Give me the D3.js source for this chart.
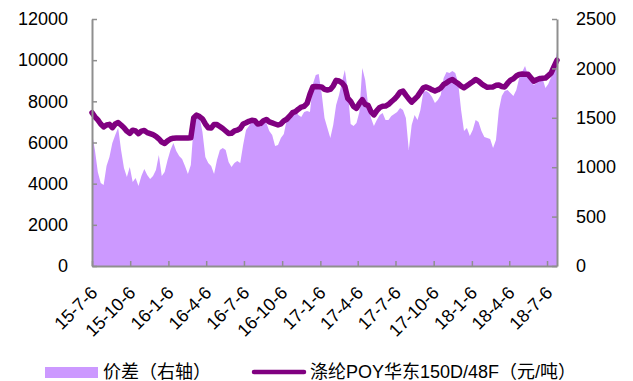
<!DOCTYPE html>
<html>
<head>
<meta charset="utf-8">
<script src="https://cdn.jsdelivr.net/npm/d3@7"></script>
<style>
  html, body { margin: 0; padding: 0; background: #fff; }
  svg { display: block; }
  text { font-family: "Liberation Sans", Arial, "Noto Sans CJK SC", sans-serif; fill: #000; }
  .cjk { font-family: "Liberation Sans", Arial, "Noto Sans CJK SC", sans-serif; }
</style>
</head>
<body>
<svg id="chart" width="633" height="381"></svg>
<script>
// Weekly observations starting 2015-07-06
const startDate = "2015-07-06";

// 涤纶POY华东150D/48F price, 元/吨 (left axis)
const poyPrice = [
  7450, 7250, 7100, 6900, 6760, 6850, 6880, 6720, 6900, 6970,
  6850, 6720, 6550, 6440, 6600, 6560, 6430, 6550, 6580, 6480,
  6430, 6380, 6300, 6180, 6020, 5950, 6080, 6170, 6210, 6220,
  6220, 6220, 6220, 6220, 6230, 7200, 7330, 7260, 7150, 6900,
  6720, 6700, 6880, 6870, 6780, 6680, 6560, 6440, 6450, 6560,
  6600, 6680, 6900, 6960, 7030, 7080, 7060, 6900, 6920, 7060,
  7120, 7000, 6950, 6900, 6850, 6900, 7050, 7130, 7280, 7450,
  7500, 7620, 7720, 7760, 7900, 8350, 8710, 8720, 8710, 8700,
  8580, 8550, 8580, 8750, 9020, 8990, 8900, 8720, 8150, 8000,
  7750, 7660, 7900, 8080, 7850, 7800, 7500, 7340, 7550, 7700,
  7760, 7770, 7850, 7980, 8100, 8250, 8450, 8500, 8300, 8120,
  7960, 8100, 8240, 8450, 8650, 8700, 8640, 8560, 8500, 8560,
  8650, 8820, 8900, 9000, 9060, 8950, 8860, 8740, 8660, 8760,
  8860, 8950, 9060, 8980, 8860, 8760, 8680, 8690, 8700, 8780,
  8790, 8720, 8700, 8880, 9030, 9100, 9230, 9310, 9330, 9320,
  9320, 9150, 8980, 9050, 9100, 9120, 9130, 9250, 9380, 9700,
  10000
];

// 价差 (right axis)
const spread = [
  1346, 1174, 951, 840, 820, 1012, 1103, 1245, 1326, 1400,
  1174, 992, 901, 1002, 850, 891, 810, 911, 982, 921,
  880, 911, 972, 1123, 911, 951, 1073, 1174, 1245, 1164,
  1113, 1083, 1012, 931, 1022, 1427, 1518, 1508, 1356, 1103,
  1042, 1012, 931, 1073, 1174, 1194, 1174, 1052, 1002, 1042,
  1063, 1042, 1224, 1376, 1417, 1467, 1498, 1478, 1407, 1467,
  1447, 1366, 1326, 1214, 1224, 1295, 1336, 1478, 1528, 1548,
  1569, 1528, 1508, 1559, 1569, 1559, 1842, 1933, 1943, 1751,
  1498, 1397, 1295, 1427, 1629, 1731, 1862, 1984, 1781, 1437,
  1417, 1447, 1558, 2004, 1882, 1629, 1498, 1417, 1478, 1528,
  1548, 1478, 1478, 1518, 1538, 1558, 1599, 1579, 1498, 1174,
  1427, 1528, 1478, 1579, 1761, 1771, 1751, 1710, 1650, 1680,
  1731, 1903, 1963, 1953, 1973, 1953, 1852, 1579, 1366, 1397,
  1316, 1376, 1478, 1457, 1366, 1306, 1295, 1285, 1194, 1275,
  1579, 1720, 1771, 1781, 1751, 1720, 1781, 1903, 1963, 2024,
  1933, 1892, 1832, 1852, 1933, 1903, 1801, 1842, 1913, 2004,
  2166
];

const leftTicks = [0, 2000, 4000, 6000, 8000, 10000, 12000];
const rightTicks = [0, 500, 1000, 1500, 2000, 2500];
const xTickLabels = ["15-7-6", "15-10-6", "16-1-6", "16-4-6", "16-7-6", "16-10-6",
  "17-1-6", "17-4-6", "17-7-6", "17-10-6", "18-1-6", "18-4-6", "18-7-6"];

const seriesNames = ["价差（右轴）", "涤纶POY华东150D/48F（元/吨）"];
const colors = { spread: "#CC99FF", poy: "#800080", axis: "#8f8f8f" };

const parseDay = d3.timeParse("%Y-%m-%d");
const parseTick = d3.timeParse("%y-%m-%d");
const t0 = parseDay(startDate);
const dates = spread.map((_, i) => d3.timeWeek.offset(t0, i));
const rows = dates.map((d, i) => ({ date: d, poy: poyPrice[i], spread: spread[i] }));

const svg = d3.select("#chart");
const plot = { left: 92, right: 557, top: 19, bottom: 266 };

const x = d3.scaleTime().domain([dates[0], dates[dates.length - 1]]).range([plot.left, plot.right]);
const yL = d3.scaleLinear().domain([0, 12000]).range([plot.bottom, plot.top]);
const yR = d3.scaleLinear().domain([0, 2500]).range([plot.bottom, plot.top]);

// spread area (right axis)
svg.append("path")
  .datum(rows)
  .attr("fill", colors.spread)
  .attr("d", d3.area().x(d => x(d.date)).y0(yR(0)).y1(d => yR(d.spread)));

// POY price line (left axis)
svg.append("path")
  .datum(rows)
  .attr("fill", "none")
  .attr("stroke", colors.poy)
  .attr("stroke-width", 5.5)
  .attr("stroke-linejoin", "round")
  .attr("stroke-linecap", "round")
  .attr("d", d3.line().x(d => x(d.date)).y(d => yL(d.poy)));

function styleAxis(g) {
  g.select(".domain").attr("stroke", colors.axis).attr("stroke-width", 2);
  g.selectAll(".tick line").attr("stroke", colors.axis).attr("stroke-width", 1.5);
  g.selectAll(".tick text").attr("fill", "#000").style("font-size", "18px")
    .style("font-family", "'Liberation Sans', Arial, sans-serif");
}

// left axis
const gL = svg.append("g").attr("transform", `translate(${plot.left},0)`)
  .call(d3.axisLeft(yL).tickValues(leftTicks).tickSizeInner(-5).tickSizeOuter(0).tickPadding(24).tickFormat(d3.format("d")));
styleAxis(gL);

// right axis
const gR = svg.append("g").attr("transform", `translate(${plot.right},0)`)
  .call(d3.axisRight(yR).tickValues(rightTicks).tickSizeInner(-5).tickSizeOuter(0).tickPadding(19).tickFormat(d3.format("d")));
styleAxis(gR);

// bottom axis with quarterly ticks
const tickDates = xTickLabels.map(s => parseTick(s));
const gX = svg.append("g").attr("transform", `translate(0,${plot.bottom})`)
  .call(d3.axisBottom(x).tickValues(tickDates).tickSizeInner(-5).tickSizeOuter(0)
    .tickFormat((d, i) => xTickLabels[i]));
styleAxis(gX);
gX.selectAll(".tick text")
  .attr("text-anchor", "end")
  .attr("x", 0).attr("y", 0).attr("dy", 0)
  .attr("transform", "translate(6,28) rotate(-45)")
  .style("font-size", "18px");

// legend
const lg = svg.append("g");
lg.append("rect").attr("x", 45).attr("y", 367).attr("width", 53).attr("height", 11).attr("fill", colors.spread);
lg.append("text").attr("class", "cjk").attr("x", 103).attr("y", 372).attr("dominant-baseline", "central")
  .style("font-size", "18px").text(seriesNames[0]);
lg.append("line").attr("x1", 254).attr("x2", 304).attr("y1", 372).attr("y2", 372)
  .attr("stroke", colors.poy).attr("stroke-width", 4.5).attr("stroke-linecap", "round");
lg.append("text").attr("class", "cjk").attr("x", 310).attr("y", 372).attr("dominant-baseline", "central")
  .style("font-size", "18px").text(seriesNames[1]);
</script>
</body>
</html>
